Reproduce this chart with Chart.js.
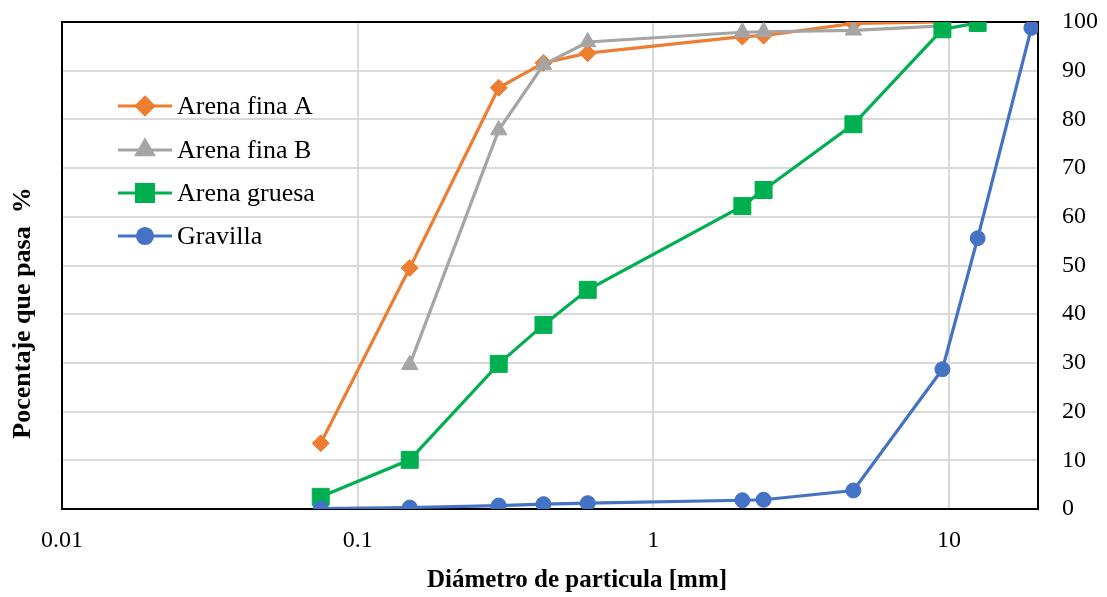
<!DOCTYPE html>
<html>
<head>
<meta charset="utf-8">
<title>Curva granulométrica</title>
<script src="https://cdn.jsdelivr.net/npm/chart.js@4/dist/chart.umd.min.js"></script>
<style>
  html, body { margin: 0; padding: 0; background: #fff; }
</style>
</head>
<body>
<canvas id="curva" width="1107" height="597"></canvas>
<script>
// Abertura de tamiz [mm]
const sieves = [0.075, 0.15, 0.3, 0.425, 0.6, 2.0, 2.36, 4.75, 9.5, 12.5, 19];

// Porcentaje que pasa por tamiz (null = sin dato)
const arenaFinaA = [13.5, 49.5, 86.5, 91.6, 93.6, 97.0, 97.2, 99.7, 100, null, null];
const arenaFinaB = [null, 29.6, 77.8, 91.2, 95.9, 97.9, 98.0, 98.3, 99.2, null, null];
const arenaGruesa = [2.5, 10.1, 29.8, 37.8, 45.0, 62.2, 65.5, 79.0, 98.5, 99.8, null];
const gravilla = [0.1, 0.3, 0.7, 1.0, 1.2, 1.8, 1.9, 3.8, 28.7, 55.6, 98.8];

const xTicks = [0.01, 0.1, 1, 10];
const yTicks = [0, 10, 20, 30, 40, 50, 60, 70, 80, 90, 100];

const FONT = "'Liberation Serif', 'Times New Roman', serif";

function toPoints(values) {
  const pts = [];
  values.forEach(function (v, i) {
    if (v !== null) pts.push({ x: sieves[i], y: v });
  });
  return pts;
}

function serie(label, values, color, style, radius, order) {
  return {
    label: label,
    data: toPoints(values),
    borderColor: color,
    backgroundColor: color,
    borderWidth: 3.2,
    pointStyle: style,
    pointRadius: radius,
    pointHoverRadius: radius,
    pointBorderWidth: 1,
    pointBackgroundColor: color,
    pointBorderColor: color,
    tension: 0,
    order: order,
  };
}

// Recuadro negro del área de trazado
const plotBorder = {
  id: "plotBorder",
  beforeDatasetsDraw(chart) {
    const a = chart.chartArea;
    const ctx = chart.ctx;
    ctx.save();
    ctx.strokeStyle = "#000";
    ctx.lineWidth = 2;
    ctx.strokeRect(a.left, a.top, a.right - a.left, a.bottom - a.top);
    ctx.restore();
  },
};

// Títulos de ejes y leyenda dentro del gráfico
const extras = {
  id: "extras",
  afterDraw(chart) {
    const ctx = chart.ctx;
    ctx.save();
    ctx.fillStyle = "#000";
    ctx.font = "bold 25px " + FONT;
    ctx.textAlign = "center";
    ctx.textBaseline = "middle";
    ctx.fillText("Diámetro de particula [mm]", 577, 581);

    ctx.font = "bold 26px " + FONT;
    ctx.translate(23, 313);
    ctx.rotate(-Math.PI / 2);
    ctx.fillText("Pocentaje que pasa  %", 0, 0);
    ctx.restore();

    // leyenda
    const rows = [3, 2, 1, 0];
    const ys = [106, 150, 193, 236];
    ctx.save();
    ctx.font = "26px " + FONT;
    ctx.textAlign = "left";
    ctx.textBaseline = "middle";
    rows.forEach(function (idx, k) {
      const ds = chart.data.datasets.find(function (d) { return d.order === idx; });
      const y = ys[k];
      ctx.strokeStyle = ds.borderColor;
      ctx.lineWidth = 3.2;
      ctx.beginPath();
      ctx.moveTo(118, y);
      ctx.lineTo(172, y);
      ctx.stroke();
      ctx.fillStyle = ds.borderColor;
      Chart.helpers.drawPoint(ctx, {
        pointStyle: ds.pointStyle,
        radius: ds.pointRadius,
        rotation: 0,
        borderWidth: 1,
      }, 145, y);
      ctx.fillStyle = "#000";
      ctx.fillText(ds.label, 177, y + 1);
    });
    ctx.restore();
  },
};

new Chart(document.getElementById("curva"), {
  type: "line",
  data: {
    datasets: [
      serie("Arena fina A", arenaFinaA, "#ED7D31", "rectRot", 8.5, 3),
      serie("Arena fina B", arenaFinaB, "#A5A5A5", "triangle", 9.5, 2),
      serie("Arena gruesa", arenaGruesa, "#00B050", "rect", 12, 1),
      serie("Gravilla", gravilla, "#4472C4", "circle", 7.5, 0),
    ],
  },
  options: {
    responsive: false,
    devicePixelRatio: 1,
    animation: false,
    layout: {
      padding: { left: 62, top: 22, right: 0, bottom: 0 },
    },
    plugins: {
      legend: { display: false },
      tooltip: { enabled: false },
      title: { display: false },
    },
    scales: {
      x: {
        type: "logarithmic",
        min: 0.01,
        max: 20,
        afterBuildTicks: function (scale) {
          scale.ticks = xTicks.map(function (v) { return { value: v }; });
        },
        afterFit: function (scale) {
          scale.height = 88;
          scale.paddingLeft = 0;
          scale.paddingRight = 0;
        },
        ticks: {
          autoSkip: false,
          maxRotation: 0,
          padding: 17,
          color: "#000",
          font: { family: FONT, size: 24 },
          callback: function (value) {
            return String(value);
          },
        },
        grid: { color: "#d9d9d9", lineWidth: 2, drawTicks: false },
        border: { display: false },
      },
      y: {
        position: "right",
        min: 0,
        max: 100,
        afterBuildTicks: function (scale) {
          scale.ticks = yTicks.map(function (v) { return { value: v }; });
        },
        afterFit: function (scale) {
          scale.width = 69;
          scale.paddingTop = 0;
          scale.paddingBottom = 0;
        },
        ticks: {
          padding: 24,
          color: "#000",
          font: { family: FONT, size: 24 },
        },
        grid: { color: "#d9d9d9", lineWidth: 2, drawTicks: false },
        border: { display: false },
      },
    },
  },
  plugins: [plotBorder, extras],
});
</script>
</body>
</html>
